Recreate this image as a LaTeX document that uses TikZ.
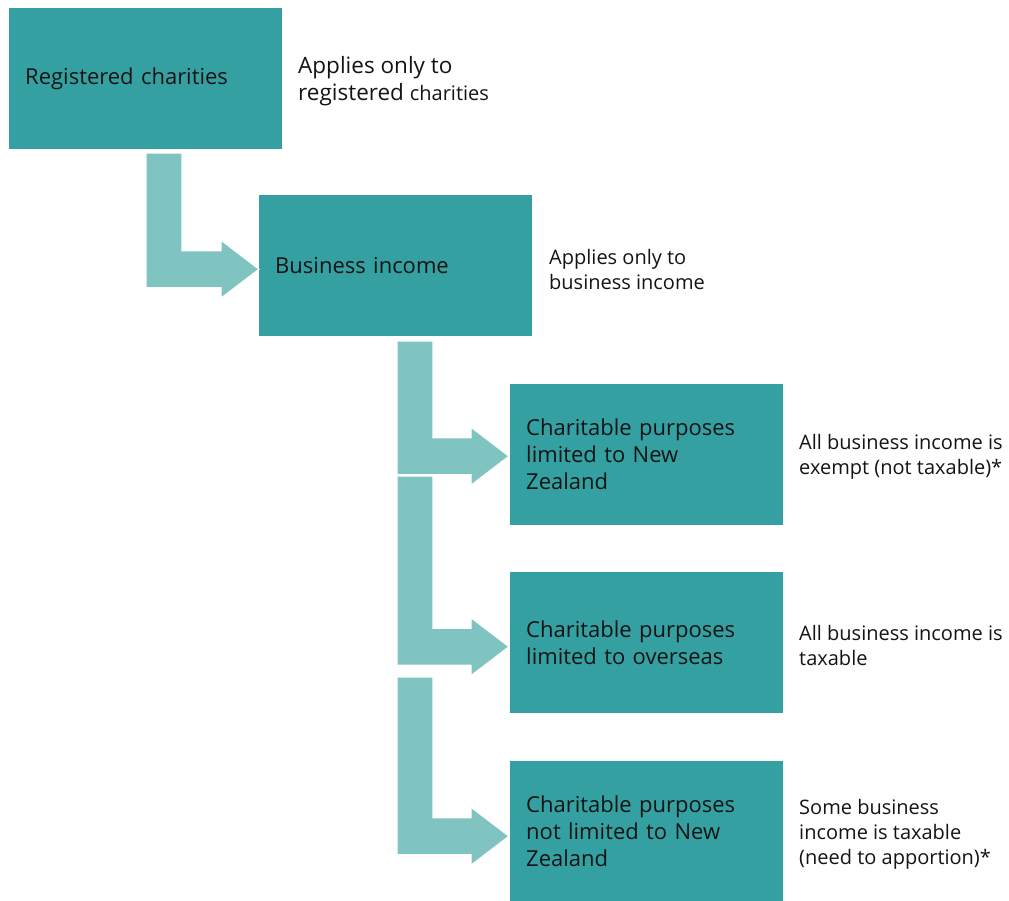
\documentclass[tikz,border=0pt]{standalone}
\usepackage{fontspec}
\setmainfont{Open Sans}
\usetikzlibrary{calc}
\definecolor{boxteal}{RGB}{52,160,161}
\definecolor{arrowteal}{RGB}{128,196,194}
\definecolor{txt}{RGB}{20,20,20}
\tikzset{
  tealbox/.style={fill=boxteal, draw=none, anchor=north west, minimum width=273, minimum height=141,
    text width=241, inner xsep=16, inner ysep=0, align=left, text=txt,
    font=\fontsize{22}{27}\selectfont},
  note/.style={anchor=west, align=left, inner sep=0, text=txt, font=\fontsize{20}{25}\selectfont},
  bignote/.style={note, font=\fontsize{22.5}{27}\selectfont},
  flow/.style={fill=arrowteal, draw=white, line width=1.2pt, line join=miter}
}
% #1 left x, #2 top y, #3 tip coordinate
\newcommand{\bentflow}[3]{%
  \path let \p1=(#3) in
    [flow] (#1,#2) -- ++(36,0) -- (#1+36,\y1+18.5) -- (\x1-38,\y1+18.5) -- (\x1-38,\y1+29)
    -- (\x1,\y1) -- (\x1-38,\y1-29) -- (\x1-38,\y1-18.5) -- (#1,\y1-18.5) -- cycle;}
\begin{document}
\begin{tikzpicture}[x=1pt,y=-1pt]
\useasboundingbox (0,0) rectangle (1009,900);
\node[tealbox] (b1) at (9,8) {Registered charities};
\node[tealbox] (b2) at (259,195) {Business income};
\node[tealbox] (b3) at (510,384) {Charitable purposes\\limited to New\\Zealand};
\node[tealbox] (b4) at (510,572) {Charitable purposes\\limited to overseas};
\node[tealbox, minimum height=140] (b5) at (510,761) {Charitable purposes\\not limited to New\\Zealand};

\node[bignote] (n1) at (298,81.5) {Applies only to\\registered {\fontsize{20}{27}\selectfont charities}};
\node[note] (n2) at (549,269.5) {Applies only to\\business income};
\node[note] (n3) at (799,457) {All business income is\\exempt (not taxable)*};
\node[note] (n4) at (799,645.5) {All business income is\\taxable};
\node[note] (n5) at (799,834) {Some business\\income is taxable\\(need to apportion)*};

\coordinate (t1) at ($(b2.west)+(0,3.5)$);
\coordinate (t2) at ($(b3.west)+(-1,1.5)$);
\coordinate (t3) at ($(b4.west)+(-1,4)$);
\coordinate (t4) at ($(b5.west)+(-1,5)$);

\bentflow{146}{153}{t1}
\bentflow{397}{341}{t2}
\bentflow{397}{476}{t3}
\bentflow{397}{677}{t4}
\end{tikzpicture}
\end{document}
